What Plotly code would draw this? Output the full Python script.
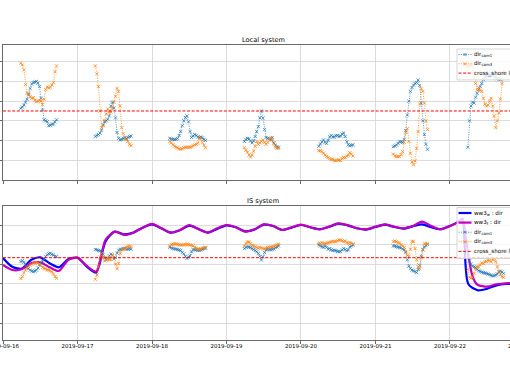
import pandas as pd
import plotly.graph_objects as go

# ---------------- data ----------------
DAYS = ["2019-09-16", "2019-09-17", "2019-09-18", "2019-09-19",
        "2019-09-20", "2019-09-21", "2019-09-22"]
TICK_DAYS = DAYS + ["2019-09-23"]
HOURS = [5.75, 6.25, 6.75, 7.25, 7.75, 8.25, 8.75, 9.25, 9.75, 10.25, 10.75, 11.25,
         11.75, 12.25, 12.75, 13.25, 13.75, 14.25, 14.75, 15.25, 15.75, 16.25, 16.75, 17.25]

# Local system (top panel), one list per day
TOP_CAM1 = [
    [252.7, 254, 256, 259, 262, 266.5, 273, 277.5, 279, 279.5, 280, 278.5, 275, 263, 251, 241, 240, 239, 235, 235.5, 236.5, 236.7, 239, 241],
    [224, 225, 226, 227.5, 230.5, 236, 239, 240, 241.5, 245, 255, 259, 253, 243, 228, 222, 220.5, 221, 222, 223, 222, 223, 224, 224.5],
    [222, 221.5, 221, 221, 221, 222, 225, 229, 235, 240, 243.5, 245, 239, 229, 223, 224.5, 226, 225, 223.5, 223, 223.5, 222.5, 221, 220],
    [219, 221, 222, 221.5, 219.5, 217.5, 219.5, 224, 229, 234, 243, 250, 243, 231, 223, 222, 222, 220.5, 223, 217.5, 215, 213.5, 213, None],
    [214, 216.5, 218.5, 220.5, 218, 217, 220, 223.5, 225, 223.5, 223.5, 225, 225, 224, 224.5, 226.5, 227.5, 224, 218.5, 215.5, 214.5, 215, 215.5, None],
    [213.6, 214.3, 215.3, 217, 218.5, 218.7, 218, 221, 230, 246, 260, 270, 274, 276.5, 278, 279, 281.5, 276, 258, 240, 226, 216, 211, None],
    [213, 240, 255, 259, 258, 264, 268, 272, 275, 278, 282, 285, 286, 285, 287, 288, 287, 285, 284, 283, 282, 282, None, None],
]
TOP_CAM3 = [
    [298.6, 297, 292, 277, 268, 268, 264.5, 263, 263.5, 261, 259.5, 260, 261, 260, 256.5, 262, 272, 274.5, 273.5, 274.5, 276.5, 279, 290, 296],
    [296, 288, 275, 250, 233, 235, 240, 247, 252, 249, 249, 253, 259, 265, 273, 270, 255, 233, 227, 222, 221, 219, 216, 214.6],
    [219, 217.5, 215.5, 214, 213, 212.5, 211.5, 211, 211.5, 212.5, 213, 213, 213, 213, 213.5, 214.5, 215.5, 216, 217, 222, 222.5, 218, 215, 212.5],
    [212.5, 210, 208, 205, 203, 205, 209, 214, 219, 216, 217.5, 219, 220.5, 218, 216, 218, 221.5, 222, 220.5, 216.5, 213, 212, 212, None],
    [209.5, 209.5, 208.5, 207, 205, 203.5, 202.5, 201.5, 200.5, 200.5, 199.5, 199.5, 200, 200, 199.5, 201.5, 202.5, 202.5, 204, 205, 207.5, 206, 204, None],
    [206, 204.3, 203.4, 203.4, 203.6, 205.5, 208.5, 218, 228, 232, 219, 207, 198, 195, 199, 212, 229, 257, 273, 270, 258, 240, 231, None],
    [295, 297, 296, 298, 290, 278, 271, 274, 271, 270, 263, 257, 255, 256, 260, 263, 255, 245, 233, 240, 248, 262, 278, 290],
]

# IS system (bottom panel), one list per day
BOT_CAM1 = [
    [244, 245.5, 243, 239.5, 235.5, 233.5, 231, 229.5, 228.7, 229.5, 231, 234, 239, 241.5, 244.5, 248, 252, 254.5, 256, 256.7, 255, 254, 252, 251.6],
    [262.5, 262, 261, 260.5, 259.5, 255, 250, 247, 248.5, 253, 255.5, 254, 248, 250, 257, 261.5, 262.8, 263, 264, 264.4, 263, 263, 264, 263],
    [266, 265, 264, 263.5, 263, 262.5, 262, 261, 258, 256, 252, 249, 251, 252.5, 259, 262.5, 262, 261.8, 261.5, 261, 262, 262.8, 264, 264.5],
    [264, 266, 266.5, 266.5, 265.5, 264, 262.5, 261, 259, 256.5, 252, 246.5, 251.5, 258, 262, 262.8, 262.5, 262, 262.8, 263.5, 265.5, 266.5, 268, None],
    [269.5, 268, 267, 266, 267.5, 266, 263, 264, 262, 261, 261.5, 260.8, 259.5, 259.2, 259.5, 262, 264, 262.5, 260.8, 262, 266.5, 268, 269.5, None],
    [268, 268, 267, 266, 265.9, 265, 263.5, 262, 258, 247, 237, 233.5, 231, 230, 228.7, 227.3, 232, 238, 252, 262, 266.5, 268.5, 270.5, None],
    [258, 245, 240, 237, 236, 235, 232, 230, 229, 228, 227, 226.5, 226, 225, 224, 223, 222, 222.5, 223.5, 225, 228, 229.5, 228, 226],
]
BOT_CAM3 = [
    [218, 221, 227, 231, 234, 236.5, 238.5, 240, 241.5, 242.5, 243, 242, 240, 238, 235, 233.5, 233, 231.5, 231, 230, 228.5, 225, 221, 218.4],
    [217, 223.5, 236, 251, 256.5, 250, 245, 246.5, 250.5, 247, 247, 254, 251, 240, 233, 241, 256.5, 261.8, 262.8, 264.4, 266, 267, 268, 267],
    [268, 270, 270.5, 271, 271, 270.5, 269.5, 269.5, 269.5, 269.5, 270.5, 270.5, 270, 269.5, 269, 268, 266, 264.5, 263.5, 263, 263.5, 264.4, 265.5, 266],
    [268, 272, 274, 274, 272, 269, 268, 267, 265.5, 264.5, 265.5, 265, 264, 263.5, 264.5, 265.5, 266, 266.5, 266.5, 267, 268.5, 269.5, 270.5, None],
    [272, 271, 273, 272, 271, 272, 273, 273.5, 274.5, 275, 274.6, 274.6, 276, 277, 277, 276, 274.6, 275.5, 273, 272, 273, 272, 271, None],
    [274.6, 275.5, 274.6, 273, 272.5, 270, 267.5, 265.5, 259.5, 253.5, 252, 263, 275, 275, 264, 247, 236, 233, 250, 263, 271, 272, 271, None],
    [232, 220, 218.5, 220, 226, 233, 236, 236, 239, 242, 241, 244, 244, 246, 245.5, 244, 246.5, 249, 244, 236, 229, 224, 221, 220],
]

# wave model (hours after 2019-09-16 00:00)
MODEL_HOURS = [0, 3, 6, 9, 12, 15, 18, 21, 24, 27, 30, 33, 36, 39, 42, 45, 48, 51, 54, 57,
               60, 63, 66, 69, 72, 75, 78, 81, 84, 87, 90, 93, 96, 99, 102, 105, 108, 111,
               114, 117, 120, 123, 126, 129, 132, 135, 138, 141, 144, 147,
               148, 148.5, 149, 149.5, 150, 151, 152, 153, 156, 159, 162, 165]
WW3_W = [249.5, 236, 233, 246.5, 250.6, 241.4, 235.3, 247.5, 250, 236.3, 227.1, 274.6, 289.9,
         285.8, 288.3, 296, 301.1, 295, 288.3, 292, 299, 294, 288.5, 294, 299.5, 296.5, 290.5,
         293, 300.5, 298.5, 292.5, 296, 300, 296.5, 293.5, 297, 302, 299.5, 295, 293, 297,
         300.5, 297, 294.5, 298, 301, 296.5, 293.5, 298.5, 306,
         310, 292, 240, 216, 209, 204.5, 202, 200, 202.5, 207.5, 209.8, 210]
WW3_T = [238.9, 231.2, 232.2, 241.4, 242.9, 235.3, 229.7, 246.5, 250, 237.3, 228.7, 277.1, 289.9,
         284.8, 288.3, 296, 301.6, 295, 288.3, 292.4, 300, 293.4, 288.3, 295, 300, 296.5, 289.9,
         293.4, 301.1, 298.5, 292.4, 296.5, 300.6, 296.5, 293.4, 297.5, 302.6, 300, 295, 293.4,
         297.5, 301.1, 297.5, 295, 298.5, 305.2, 298.5, 293.4, 298.5, 305.2,
         308, 302, 284, 268, 251.6, 226, 213.4, 208.3, 205.7, 209.3, 210.8, 211]

CROSS_SHORE = 250
TOP_TICKS = [200, 220, 240, 260, 280, 300]
BOT_TICKS = [150, 180, 210, 240, 270, 300]
TOP_RANGE = [179.6, 317.3]
BOT_RANGE = [124.0, 329.1]
X_START = "2019-09-16 00:00"
X_END = "2019-09-22 19:20"

# ---------------- styling ----------------
W, H = 510, 382
ML, MR, MT, MB = 3, 0, 45, 42
PW, PH = W - ML - MR, H - MT - MB
FONT = "DejaVu Sans"
C1, C3 = "#1f77b4", "#ff7f0e"
CW, CT = "#0000ff", "#bf00bf"
GRID = "#d3d3d3"
SPINE = "#444444"


def px_x(px):
    return (px - ML) / PW


def px_y(py):
    return (H - MB - py) / PH


def cam_series(per_day):
    xs, ys = [], []
    for day, vals in zip(DAYS, per_day):
        base = pd.Timestamp(day)
        for h, v in zip(HOURS, vals):
            xs.append((base + pd.Timedelta(hours=h)).isoformat())
            ys.append(v)
        xs.append((base + pd.Timedelta(hours=20)).isoformat())
        ys.append(None)
    return xs, ys


model_x = [(pd.Timestamp(X_START) + pd.Timedelta(hours=h)).isoformat() for h in MODEL_HOURS]

fig = go.Figure()


def cam_trace(per_day, color, xa, ya):
    x, y = cam_series(per_day)
    return go.Scatter(x=x, y=y, xaxis=xa, yaxis=ya, mode="lines+markers",
                      line=dict(color=color, width=0.8, dash="1px,1.4px"),
                      marker=dict(symbol="x-thin", size=3.2, color=color,
                                  line=dict(color=color, width=0.75)),
                      connectgaps=False, showlegend=False, hoverinfo="skip")


fig.add_trace(cam_trace(TOP_CAM1, C1, "x", "y"))
fig.add_trace(cam_trace(TOP_CAM3, C3, "x", "y"))
fig.add_trace(go.Scatter(x=model_x, y=WW3_W, xaxis="x2", yaxis="y2", mode="lines",
                         line=dict(color=CW, width=2.2, shape="spline", smoothing=0.7),
                         showlegend=False, hoverinfo="skip"))
fig.add_trace(go.Scatter(x=model_x, y=WW3_T, xaxis="x2", yaxis="y2", mode="lines",
                         line=dict(color=CT, width=2.2, shape="spline", smoothing=0.7),
                         showlegend=False, hoverinfo="skip"))
fig.add_trace(cam_trace(BOT_CAM1, C1, "x2", "y2"))
fig.add_trace(cam_trace(BOT_CAM3, C3, "x2", "y2"))

shapes = []
annotations = []

# cross-shore lines
for ya in ("y", "y2"):
    shapes.append(dict(type="line", xref="x domain" if ya == "y" else "x2 domain", yref=ya,
                       x0=0, x1=1, y0=CROSS_SHORE, y1=CROSS_SHORE, layer="above",
                       line=dict(color="red", width=1, dash="3px,1.6px")))


def legend_box(left, top, rows, step):
    height = 3 + step * len(rows)
    shapes.append(dict(type="rect", xref="paper", yref="paper",
                       x0=px_x(left), x1=px_x(left + 90), y0=px_y(top + height), y1=px_y(top),
                       fillcolor="rgba(255,255,255,0.8)", line=dict(color="#cccccc", width=0.8),
                       layer="above"))
    for i, (label, color, width, dash, marker) in enumerate(rows):
        cy = top + 5.5 + i * step
        shapes.append(dict(type="line", xref="paper", yref="paper",
                           x0=px_x(left + 1.5), x1=px_x(left + 14.5), y0=px_y(cy), y1=px_y(cy),
                           line=dict(color=color, width=width, dash=dash), layer="above"))
        if marker:
            cx = left + 8
            for dy in (-1.5, 1.5):
                shapes.append(dict(type="line", xref="paper", yref="paper",
                                   x0=px_x(cx - 1.5), x1=px_x(cx + 1.5),
                                   y0=px_y(cy - dy), y1=px_y(cy + dy),
                                   line=dict(color=color, width=0.8), layer="above"))
        annotations.append(dict(xref="paper", yref="paper", x=px_x(left + 15), y=px_y(cy),
                                xanchor="left", yanchor="middle", showarrow=False,
                                text=label, font=dict(family=FONT, size=5.6, color="black")))


legend_box(457, 49, [
    ("dir<sub>cam1</sub>", C1, 0.8, "1px,1.4px", True),
    ("dir<sub>cam3</sub>", C3, 0.8, "1px,1.4px", True),
    ("cross_shore line", "red", 1, "3px,1.6px", False),
], 9.3)
legend_box(457, 207.5, [
    ("ww3<sub>w</sub> : dir", CW, 2.2, "solid", False),
    ("ww3<sub>t</sub> : dir", CT, 2.2, "solid", False),
    ("dir<sub>cam1</sub>", C1, 0.8, "1px,1.4px", True),
    ("dir<sub>cam3</sub>", C3, 0.8, "1px,1.4px", True),
    ("cross_shore line", "red", 1, "3px,1.6px", False),
], 9.6)

# titles
annotations.append(dict(xref="paper", yref="paper", x=px_x(263), y=px_y(40.5), text="Local system",
                        showarrow=False, xanchor="center", yanchor="middle",
                        font=dict(family=FONT, size=6.6, color="black")))
annotations.append(dict(xref="paper", yref="paper", x=px_x(263), y=px_y(200.5), text="IS system",
                        showarrow=False, xanchor="center", yanchor="middle",
                        font=dict(family=FONT, size=6.6, color="black")))

# tick label of the day just beyond the visible range (cut by the frame)
t0, t1 = pd.Timestamp(X_START), pd.Timestamp(X_END)
last = pd.Timestamp(TICK_DAYS[-1])
annotations.append(dict(xref="paper", yref="paper", x=(last - t0) / (t1 - t0), y=px_y(345.5),
                        text=last.strftime("%Y-%m-%d"), showarrow=False, xanchor="center",
                        yanchor="middle", font=dict(family=FONT, size=5.5, color="black")))

axis_common = dict(showgrid=True, gridcolor=GRID, gridwidth=0.8, zeroline=False,
                   showline=True, linecolor=SPINE, linewidth=0.8,
                   ticks="outside", tickcolor=SPINE, tickwidth=0.8)

fig.update_layout(
    width=W, height=H,
    margin=dict(l=ML, r=MR, t=MT, b=MB, autoexpand=False),
    paper_bgcolor="white", plot_bgcolor="white",
    showlegend=False,
    font=dict(family=FONT, size=5.5, color="black"),
    xaxis=dict(type="date", range=[X_START, X_END], domain=[0, 1], anchor="y",
               tickvals=TICK_DAYS, showticklabels=False, ticklen=3.5, mirror=True, **axis_common),
    yaxis=dict(range=TOP_RANGE, domain=[px_y(180), px_y(45)], anchor="x",
               tickvals=TOP_TICKS, showticklabels=False, ticklen=3, **axis_common),
    xaxis2=dict(type="date", range=[X_START, X_END], domain=[0, 1], anchor="y2", matches="x",
                tickvals=TICK_DAYS, tickformat="%Y-%m-%d", ticklen=3.5, mirror=True,
                ticklabeloverflow="allow", ticklabelstandoff=-3,
                tickfont=dict(family=FONT, size=5.5, color="black"), **axis_common),
    yaxis2=dict(range=BOT_RANGE, domain=[px_y(340), px_y(206)], anchor="x2",
                tickvals=BOT_TICKS, showticklabels=False, ticklen=3, **axis_common),
    shapes=shapes,
    annotations=annotations,
)

fig.write_html("out.html",
               config={"displayModeBar": False, "staticPlot": True},
               post_script="document.body.style.margin='0px';document.body.style.overflow='hidden';")
